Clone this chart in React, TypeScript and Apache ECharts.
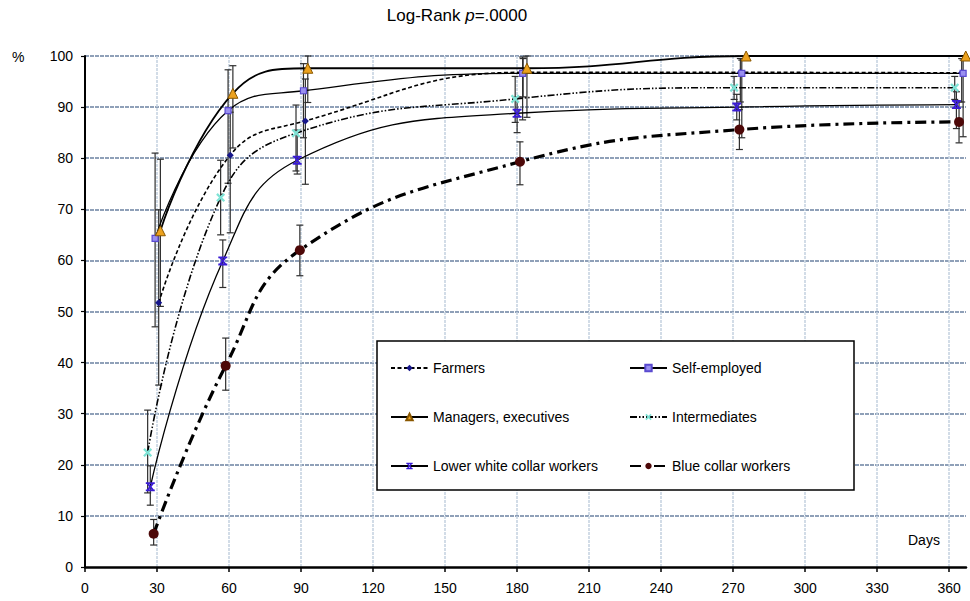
import React, { useEffect, useRef } from "react";
import * as echarts from "echarts";

// ---- data ----
const xTicks = [0, 30, 60, 90, 120, 150, 180, 210, 240, 270, 300, 330, 360];
const yTicks = [0, 10, 20, 30, 40, 50, 60, 70, 80, 90, 100];

const seriesNames = [
  "Farmers",
  "Self-employed",
  "Managers, executives",
  "Intermediates",
  "Lower white collar workers",
  "Blue collar workers",
];

const farmersDays = [30.7, 60.5, 91.8, 182.5, 273, 365.2];
const farmersPct = [51.7, 80.6, 87.3, 96.8, 96.8, 96.7];
const farmersLow = [35.6, 65.4, 74.9, 92, 91, 91];
const farmersHigh = [69.9, 89, 95.5, 99.5, 99.5, 99.5];

const selfDays = [29.2, 59.6, 91, 182.3, 273.6, 365.8];
const selfPct = [64.3, 89.3, 93.2, 96.6, 96.6, 96.6];
const selfLow = [47, 75.1, 84, 87.5, 84, 84.2];
const selfHigh = [81, 97.3, 98.5, 99.8, 99.2, 99.2];

const managersDays = [31.4, 61.6, 92.8, 184.1, 275.4, 366.9];
const managersPct = [65.8, 92.7, 97.6, 97.6, 100, 100];
const managersLow = [51, 82, 90.9, 88, 100, 100];
const managersHigh = [79.8, 98.1, 100, 100, 100, 100];

const interDays = [26.1, 56.5, 87.9, 179.2, 270.4, 362.3];
const interPct = [22.4, 72.3, 84.9, 91.6, 93.8, 93.8];
const interLow = [14.5, 65, 77.5, 87, 91.5, 91.5];
const interHigh = [30.7, 79.6, 90.4, 96, 96, 96];

const lowerDays = [27.2, 57.4, 88.4, 180, 271.5, 363];
const lowerPct = [15.7, 59.9, 79.6, 88.8, 90.0, 90.5];
const lowerLow = [12.1, 54.7, 76.9, 85, 87.5, 85.8];
const lowerHigh = [19.8, 64, 85.5, 92, 92.5, 93];

const blueDays = [28.6, 58.6, 89.5, 181.2, 272.6, 364.1];
const bluePct = [6.5, 39.4, 62.0, 79.3, 85.6, 87.1];
const blueLow = [4.3, 34.6, 57, 74.8, 81.7, 83];
const blueHigh = [9.3, 44.8, 66.9, 83.2, 89.5, 91];

const FONT = "'Liberation Sans', Arial, sans-serif";

const X_PATH =
  "path://M0,1.8 L1.8,0 L5,3.2 L8.2,0 L10,1.8 L6.8,5 L10,8.2 L8.2,10 L5,6.8 L1.8,10 L0,8.2 L3.2,5 Z";
const XBAR_PATH =
  "path://M0,0 L10,0 L10,2 L0,2 Z M0,8 L10,8 L10,10 L0,10 Z M0.5,1 L3,1 L5,3.6 L7,1 L9.5,1 L6.4,5 L9.5,9 L7,9 L5,6.4 L3,9 L0.5,9 L3.6,5 Z";

function pairs(xs: number[], ys: number[]) {
  return xs.map((x, i) => [x, ys[i]]);
}
function bars(xs: number[], lo: number[], hi: number[]) {
  return xs
    .map((x, i) => [x, lo[i], hi[i]])
    .filter((d) => d[2] - d[1] > 0.01);
}

export default function App() {
  const ref = useRef<HTMLDivElement>(null);

  useEffect(() => {
    if (!ref.current) return;
    const chart = echarts.init(ref.current, null, { renderer: "svg" });

    const errData = [
      ...bars(farmersDays, farmersLow, farmersHigh),
      ...bars(selfDays, selfLow, selfHigh),
      ...bars(managersDays, managersLow, managersHigh),
      ...bars(interDays, interLow, interHigh),
      ...bars(lowerDays, lowerLow, lowerHigh),
      ...bars(blueDays, blueLow, blueHigh),
    ];

    const lineBase = {
      type: "line",
      smooth: 0.45,
      z: 3,
      showSymbol: true,
      emphasis: { disabled: true },
    };

    const legendCommon = {
      orient: "vertical",
      top: 361,
      itemWidth: 37,
      itemHeight: 8,
      itemGap: 35,
      padding: 0,
      z: 6,
      textStyle: { fontSize: 14, fontFamily: FONT, color: "#000" },
    };

    const option: any = {
      animation: false,
      backgroundColor: "#ffffff",
      textStyle: { fontFamily: FONT },
      grid: {
        left: 85,
        right: 4,
        top: 56,
        bottom: 34,
        containLabel: false,
        outerBoundsMode: "none",
      },
      xAxis: {
        type: "value",
        min: 0,
        max: 367,
        interval: 30,
        axisLine: { show: true, lineStyle: { color: "#000", width: 2.5 } },
        axisTick: { show: true, length: 5, lineStyle: { color: "#000", width: 1.5 } },
        axisLabel: {
          color: "#000",
          fontSize: 14,
          fontFamily: FONT,
          margin: 14,
          showMaxLabel: false,
          formatter: (v: number) => (xTicks.includes(v) ? String(v) : ""),
        },
        splitLine: {
          show: true,
          showMinLine: false,
          showMaxLine: false,
          lineStyle: { color: "#c3d1df", width: 1.5, type: [3, 1] },
        },
      },
      yAxis: {
        type: "value",
        min: 0,
        max: 100,
        interval: 10,
        axisLine: { show: true, lineStyle: { color: "#000", width: 2 } },
        axisTick: { show: true, length: 4, lineStyle: { color: "#000", width: 1.2 } },
        axisLabel: {
          color: "#000",
          fontSize: 14,
          fontFamily: FONT,
          margin: 12,
          formatter: (v: number) => (yTicks.includes(v) ? String(v) : ""),
        },
        splitLine: {
          show: true,
          showMinLine: false,
          lineStyle: { color: "#8fa0b8", width: 2, type: [4, 1] },
        },
      },
      legend: [
        {
          ...legendCommon,
          data: [seriesNames[0], seriesNames[2], seriesNames[4]],
          left: 390,
        },
        {
          ...legendCommon,
          data: [seriesNames[1], seriesNames[3], seriesNames[5]],
          left: 629,
        },
      ],
      graphic: [
        {
          type: "rect",
          z: 4,
          shape: { x: 377, y: 341, width: 477, height: 149 },
          style: { fill: "#ffffff", stroke: "#000", lineWidth: 1.5 },
        },
        {
          type: "text",
          x: 457,
          y: 15,
          z: 6,
          style: {
            text: "Log-Rank {i|p}=.0000",
            fontSize: 17,
            fontFamily: FONT,
            fill: "#000",
            align: "center",
            verticalAlign: "middle",
            rich: {
              i: { fontStyle: "italic", fontSize: 17, fontFamily: FONT, fill: "#000" },
            },
          },
        },
        {
          type: "text",
          x: 12,
          y: 57,
          z: 6,
          style: {
            text: "%",
            fontSize: 14,
            fontFamily: FONT,
            fill: "#000",
            verticalAlign: "middle",
          },
        },
        {
          type: "text",
          x: 908,
          y: 540,
          z: 6,
          style: {
            text: "Days",
            fontSize: 14,
            fontFamily: FONT,
            fill: "#000",
            verticalAlign: "middle",
          },
        },
      ],
      series: [
        {
          name: "errorbars",
          type: "custom",
          z: 2,
          silent: true,
          encode: { x: 0, y: [1, 2] },
          data: errData,
          renderItem: (params: any, api: any) => {
            const x = api.value(0);
            const p1 = api.coord([x, api.value(1)]);
            const p2 = api.coord([x, api.value(2)]);
            const w = 3.5;
            const st = { stroke: "#2e2e2e", lineWidth: 1.2 };
            return {
              type: "group",
              children: [
                { type: "line", shape: { x1: p1[0], y1: p1[1], x2: p2[0], y2: p2[1] }, style: st },
                { type: "line", shape: { x1: p1[0] - w, y1: p1[1], x2: p1[0] + w, y2: p1[1] }, style: st },
                { type: "line", shape: { x1: p2[0] - w, y1: p2[1], x2: p2[0] + w, y2: p2[1] }, style: st },
              ],
            };
          },
        },
        {
          ...lineBase,
          name: seriesNames[0],
          data: pairs(farmersDays, farmersPct),
          symbol: "diamond",
          symbolSize: 7,
          lineStyle: { color: "#000", width: 1.6, type: [4, 2.5] },
          itemStyle: { color: "#16168a", borderWidth: 0 },
        },
        {
          ...lineBase,
          name: seriesNames[1],
          data: pairs(selfDays, selfPct),
          symbol: "rect",
          symbolSize: 6,
          lineStyle: { color: "#000", width: 1.3, type: "solid" },
          itemStyle: { color: "#9a90f0", borderColor: "#5a4ad0", borderWidth: 1.2 },
        },
        {
          ...lineBase,
          name: seriesNames[2],
          data: pairs(managersDays, managersPct),
          symbol: "triangle",
          symbolSize: 10,
          lineStyle: { color: "#000", width: 1.8, type: "solid" },
          itemStyle: { color: "#eca21e", borderColor: "#8a5800", borderWidth: 1 },
        },
        {
          ...lineBase,
          name: seriesNames[3],
          data: pairs(interDays, interPct),
          symbol: X_PATH,
          symbolSize: 9,
          lineStyle: { color: "#000", width: 1.6, type: [7, 2, 1.5, 2, 1.5, 2] },
          itemStyle: { color: "#7fe3d6", borderWidth: 0 },
        },
        {
          ...lineBase,
          name: seriesNames[4],
          data: pairs(lowerDays, lowerPct),
          symbol: XBAR_PATH,
          symbolSize: 9,
          lineStyle: { color: "#000", width: 1.3, type: "solid" },
          itemStyle: { color: "#3a1cd4", borderWidth: 0 },
        },
        {
          ...lineBase,
          name: seriesNames[5],
          data: pairs(blueDays, bluePct),
          symbol: "circle",
          symbolSize: 10,
          lineStyle: { color: "#000", width: 3.2, type: [11, 5, 3, 5] },
          itemStyle: { color: "#4d0808", borderWidth: 0 },
        },
      ],
    };

    chart.setOption(option);
    return () => chart.dispose();
  }, []);

  return (
    <div
      ref={ref}
      style={{ position: "fixed", left: 0, top: 0, width: 970, height: 601 }}
    />
  );
}
